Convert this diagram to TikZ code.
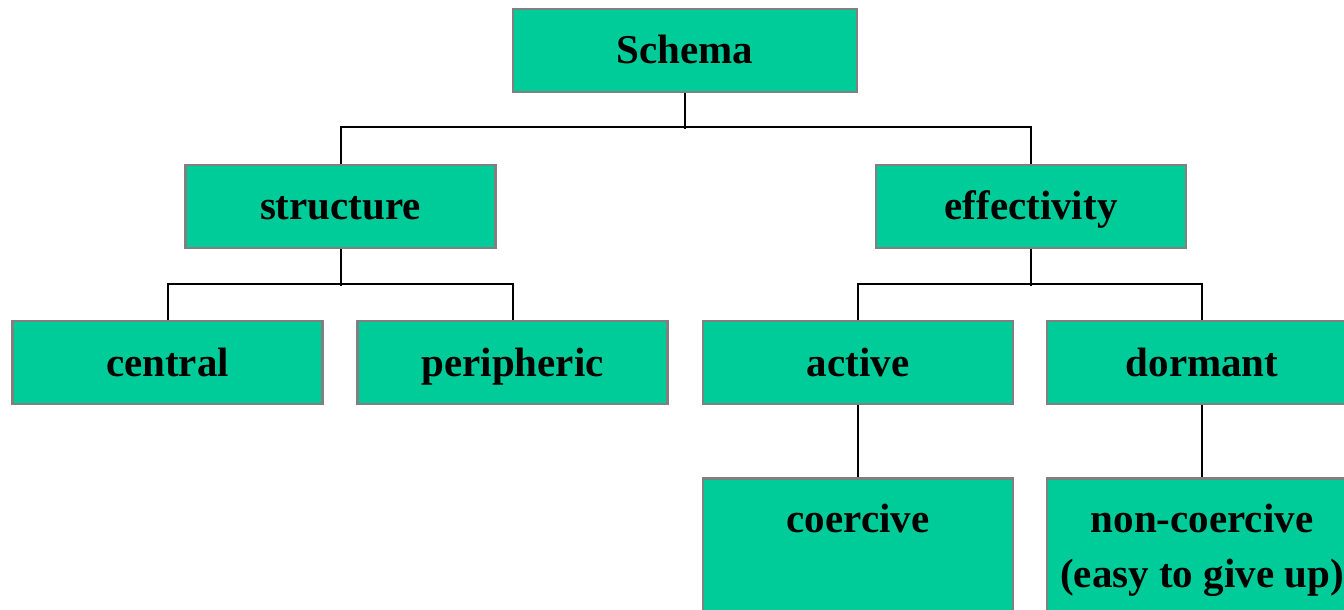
\documentclass[tikz,border=0pt]{standalone}
\usepackage{fontspec}
\setmainfont{Liberation Serif}
\usepackage{xcolor}
\usepackage{tikz}
\definecolor{boxgreen}{RGB}{0,204,153}
\definecolor{boxgray}{RGB}{128,128,128}
\tikzstyle{box} = [draw=boxgray,line width=1.3pt,fill=boxgreen,minimum width=155pt,minimum height=41.5pt,inner sep=0pt,text height=14pt,text depth=0.5pt,font=\fontsize{20.5}{27.5}\selectfont\bfseries]
\tikzstyle{boxtext} = [anchor=north,inner sep=0pt,align=center,font=\fontsize{20.5}{27.5}\selectfont\bfseries]
\tikzstyle{link} = [line width=1pt,black]

\begin{document}
\begin{tikzpicture}[x=0.5pt,y=-0.5pt]
		\useasboundingbox (0,0) rectangle (1344,610);
		
		% Top level:
		\node [box, minimum width=172pt] (schema) at (685,50.5) {Schema};
		
		% Second level:
		\node [box] (structure) at (340.5,206.5) {structure};
		\node [box] (effectivity) at (1031,206.5) {effectivity};
		
		% Third level:
		\node [box] (central) at (167.5,362.5) {central};
		\node [box] (peripheric) at (512.5,362.5) {peripheric};
		\node [box] (active) at (858,362.5) {active};
		\node [box] (dormant) at (1202,362.5) {dormant};
		
		% Fourth level:
		% The boxes run past the lower edge, the text sits at their top:
		\node [box, anchor=north, minimum height=82pt] (coercive) at (858,477) {};
		\node [box, anchor=north, minimum height=82pt] (noncoercive) at (1202,477) {};
		\node [boxtext] (coercivetext) at ([yshift=-8.25pt]coercive.north) {\strut coercive};
		\node [boxtext] (noncoercivetext) at ([yshift=-8.25pt]noncoercive.north) {\strut non-coercive\\(easy to give up)};
		
		% Connectors:
		\draw [link] (schema.south) -- ++(0,36);
		\draw [link] (structure.north) -- ++(0,-37) -| (effectivity.north);
		
		\draw [link] (structure.south) -- ++(0,37);
		\draw [link] (central.north) -- ++(0,-36) -| (peripheric.north);
		
		\draw [link] (effectivity.south) -- ++(0,37);
		\draw [link] (active.north) -- ++(0,-36) -| (dormant.north);
		
		\draw [link] (active.south) -- (coercive.north);
		\draw [link] (dormant.south) -- (noncoercive.north);
		
\end{tikzpicture}
\end{document}
